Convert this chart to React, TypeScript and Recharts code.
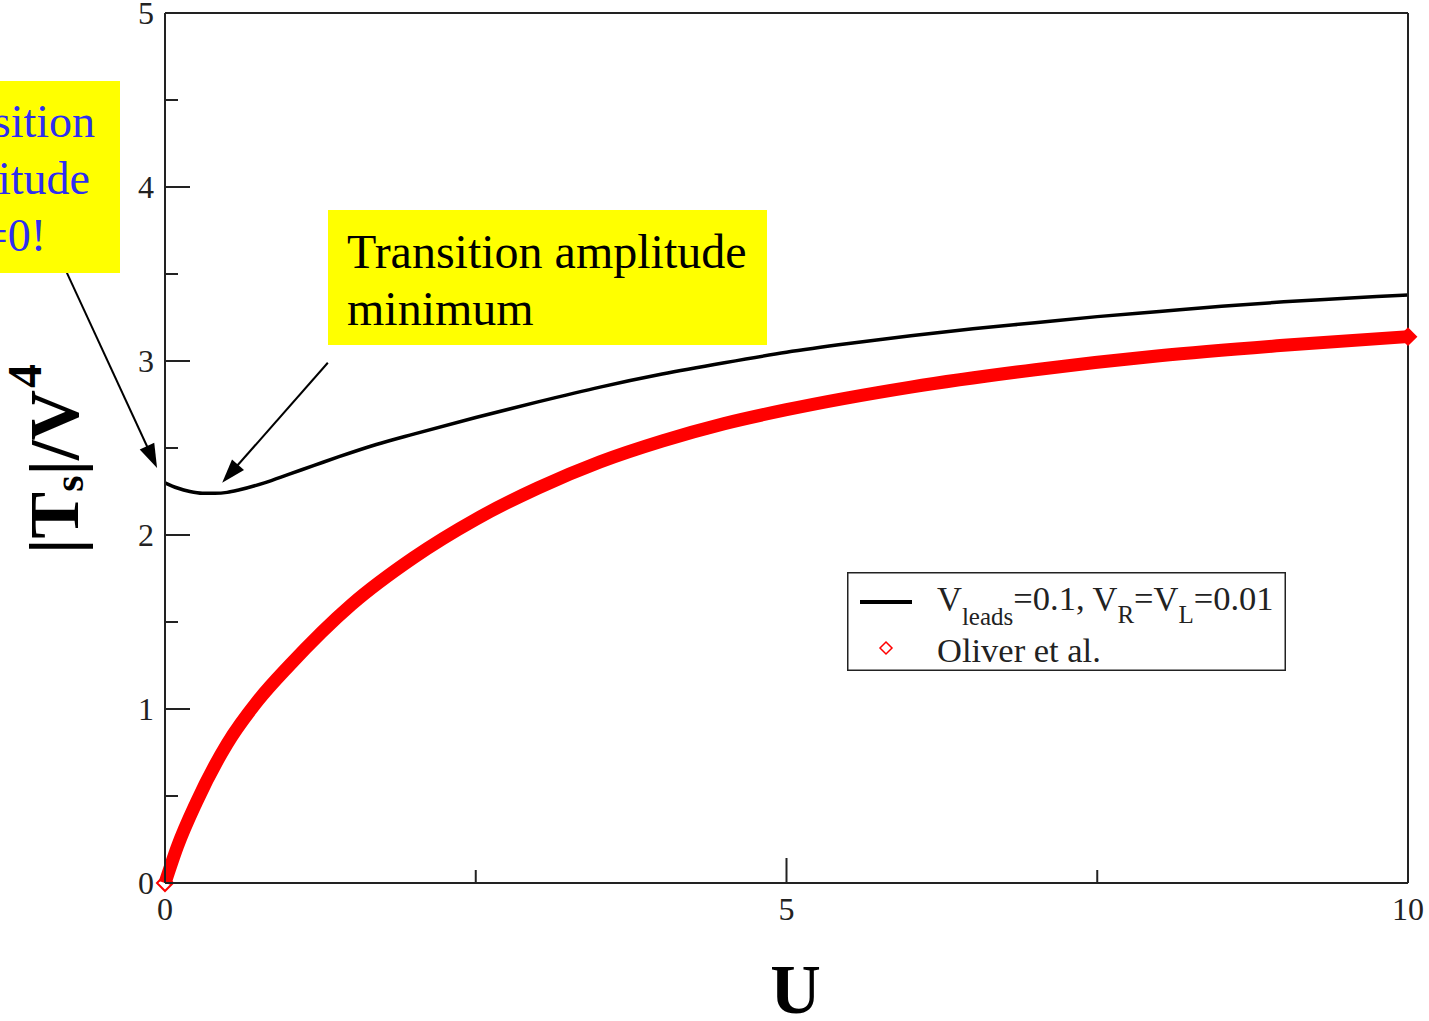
import React from "react";
import { LineChart, Line, XAxis, YAxis, ReferenceLine, Legend } from "recharts";

// black curve: V_leads=0.1, V_R=V_L=0.01
const leadsU = [0, 0.1, 0.2, 0.3, 0.4, 0.5, 0.6, 0.8, 1.0, 1.2, 1.4, 1.7, 2.0, 2.5, 3.0, 3.5, 4.0, 4.5, 5.0, 5.5, 6.0, 6.5, 7.0, 7.5, 8.0, 8.5, 9.0, 9.5, 10];
const leadsT = [2.3, 2.27, 2.25, 2.24, 2.24, 2.245, 2.26, 2.3, 2.35, 2.4, 2.45, 2.52, 2.58, 2.675, 2.765, 2.85, 2.925, 2.99, 3.05, 3.1, 3.145, 3.185, 3.22, 3.255, 3.285, 3.315, 3.34, 3.36, 3.38];

// red curve: Oliver et al.
const oliverU = [0, 0.1, 0.25, 0.5, 0.75, 1.0, 1.5, 2.0, 2.5, 3.0, 3.5, 4.0, 4.5, 5, 6, 7, 8, 9, 10];
const oliverT = [0, 0.21, 0.46, 0.8, 1.05, 1.25, 1.6, 1.87, 2.09, 2.27, 2.42, 2.54, 2.64, 2.72, 2.85, 2.95, 3.03, 3.09, 3.14];

const xTicks = [0, 2.5, 5, 7.5, 10];
const yTicks = [0, 0.5, 1, 1.5, 2, 2.5, 3, 3.5, 4, 4.5, 5];

// annotation arrows, in data units (tail -> head)
const arrowZero = [{ x: -0.83, y: 3.57 }, { x: -0.064, y: 2.385 }];
const arrowMin = [{ x: 1.31, y: 2.99 }, { x: 0.46, y: 2.3 }];

const leadsData = leadsU.map((u, i) => ({ u, t: leadsT[i] }));
const oliverData = oliverU.map((u, i) => ({ u, t: oliverT[i] }));

const SERIF = '"Liberation Serif", "Times New Roman", serif';
const FRAME = "#222";
const MAJOR = 25;
const MINOR = 13;

function BottomTick(props: any) {
  const { x, y, payload } = props;
  const v = payload.value;
  const major = v % 5 === 0;
  return (
    <g>
      <line x1={x} y1={y} x2={x} y2={y - (major ? MAJOR : MINOR)} stroke={FRAME} strokeWidth={2} />
      {major && (
        <text x={x} y={y + 37} textAnchor="middle" fontSize={32} fontFamily={SERIF} fill="#222">
          {v}
        </text>
      )}
    </g>
  );
}

function TopTick(props: any) {
  const { x, y, payload } = props;
  const major = payload.value % 5 === 0;
  return <line x1={x} y1={y} x2={x} y2={y + (major ? MAJOR : MINOR)} stroke={FRAME} strokeWidth={2} />;
}

function LeftTick(props: any) {
  const { x, y, payload } = props;
  const v = payload.value;
  const major = Number.isInteger(v);
  return (
    <g>
      <line x1={x} y1={y} x2={x + (major ? MAJOR : MINOR)} y2={y} stroke={FRAME} strokeWidth={2} />
      {major && (
        <text x={x - 11} y={y + 11} textAnchor="end" fontSize={32} fontFamily={SERIF} fill="#222">
          {v}
        </text>
      )}
    </g>
  );
}

function RightTick(props: any) {
  const { x, y, payload } = props;
  const major = Number.isInteger(payload.value);
  return <line x1={x} y1={y} x2={x - (major ? MAJOR : MINOR)} y2={y} stroke={FRAME} strokeWidth={2} />;
}

function Arrow(props: any) {
  const { x1, y1, x2, y2 } = props;
  const dx = x2 - x1;
  const dy = y2 - y1;
  const len = Math.sqrt(dx * dx + dy * dy);
  const ux = dx / len;
  const uy = dy / len;
  const head = 24;
  const half = 8;
  const bx = x2 - ux * head;
  const by = y2 - uy * head;
  return (
    <g>
      <line x1={x1} y1={y1} x2={bx + ux * 2} y2={by + uy * 2} stroke="#000" strokeWidth={2} />
      <polygon
        points={`${x2},${y2} ${bx - uy * half},${by + ux * half} ${bx + uy * half},${by - ux * half}`}
        fill="#000"
      />
    </g>
  );
}

function EndDiamond(props: any) {
  const { cx, cy, index } = props;
  if (index !== 0 && index !== oliverData.length - 1) return <g key={index} />;
  const r = 8;
  return (
    <polygon
      key={index}
      points={`${cx},${cy - r} ${cx + r},${cy} ${cx},${cy + r} ${cx - r},${cy}`}
      fill={index === 0 ? "none" : "#ff0000"}
      stroke="#ff0000"
      strokeWidth={2}
    />
  );
}

function YTitle(props: any) {
  const vb = props.viewBox;
  const cx = vb.x + 78;
  const cy = vb.y + vb.height / 2 + 11;
  return (
    <text
      x={cx}
      y={cy}
      transform={`rotate(-90, ${cx}, ${cy})`}
      textAnchor="middle"
      fontFamily={SERIF}
      fontWeight="bold"
      fontSize={70}
      fill="#000"
    >
      |T
      <tspan dy={5} fontSize={42}>s</tspan>
      <tspan dy={-5} fontSize={70}>|/V</tspan>
      <tspan dy={-37} dx={2} fontSize={48}>4</tspan>
    </text>
  );
}

function XTitle(props: any) {
  const vb = props.viewBox;
  return (
    <text
      x={vb.x + vb.width / 2 + 9}
      y={vb.y + 130}
      textAnchor="middle"
      fontFamily={SERIF}
      fontWeight="bold"
      fontSize={70}
      fill="#000"
    >
      U
    </text>
  );
}

function LegendBox() {
  return (
    <svg width={439} height={99} style={{ display: "block" }}>
      <rect x={0.75} y={0.75} width={437.5} height={97.5} fill="#fff" stroke={FRAME} strokeWidth={1.5} />
      <line x1={13} y1={30} x2={65} y2={30} stroke="#000" strokeWidth={4} />
      <text x={90} y={38} fontFamily={SERIF} fontSize={34.5} fill="#222">
        V
        <tspan dy={15} fontSize={25}>leads</tspan>
        <tspan dy={-15} fontSize={34.5}>=0.1, V</tspan>
        <tspan dy={13} fontSize={25}>R</tspan>
        <tspan dy={-13} fontSize={34.5}>=V</tspan>
        <tspan dy={13} fontSize={25}>L</tspan>
        <tspan dy={-13} fontSize={34.5}>=0.01</tspan>
      </text>
      <polygon points="39,70 45,76 39,82 33,76" fill="none" stroke="#ff0000" strokeWidth={1.5} />
      <text x={90} y={90} fontFamily={SERIF} fontSize={34.5} fill="#222">
        Oliver et al.
      </text>
    </svg>
  );
}

export default function App() {
  return (
    <div style={{ position: "absolute", left: 0, top: 0, width: 1429, height: 1021, background: "#fff", overflow: "hidden" }}>
      <LineChart width={1429} height={1021} margin={{ top: 0, right: 0, bottom: 0, left: 0 }}>
        <XAxis
          dataKey="u"
          type="number"
          domain={[0, 10]}
          ticks={xTicks}
          interval={0}
          height={138}
          tickSize={0}
          tickMargin={0}
          tickLine={false}
          tick={<BottomTick />}
          axisLine={{ stroke: FRAME, strokeWidth: 2 }}
          label={<XTitle />}
        />
        <XAxis
          xAxisId="top"
          orientation="top"
          type="number"
          domain={[0, 10]}
          ticks={xTicks}
          interval={0}
          height={13}
          tickSize={0}
          tickMargin={0}
          tickLine={false}
          tick={<TopTick />}
          axisLine={{ stroke: FRAME, strokeWidth: 2 }}
        />
        <YAxis
          type="number"
          domain={[0, 5]}
          ticks={yTicks}
          interval={0}
          width={165}
          tickSize={0}
          tickMargin={0}
          tickLine={false}
          tick={<LeftTick />}
          axisLine={{ stroke: FRAME, strokeWidth: 2 }}
          label={<YTitle />}
        />
        <YAxis
          yAxisId="right"
          orientation="right"
          type="number"
          domain={[0, 5]}
          ticks={yTicks}
          interval={0}
          width={21}
          tickSize={0}
          tickMargin={0}
          tickLine={false}
          tick={<RightTick />}
          axisLine={{ stroke: FRAME, strokeWidth: 2 }}
        />
        <Line
          data={oliverData}
          dataKey="t"
          name="Oliver et al."
          type="monotone"
          stroke="#ff0000"
          strokeWidth={13}
          dot={EndDiamond}
          activeDot={false}
          isAnimationActive={false}
        />
        <Line
          data={leadsData}
          dataKey="t"
          name="V_leads=0.1, V_R=V_L=0.01"
          type="monotone"
          stroke="#000"
          strokeWidth={3.5}
          dot={false}
          activeDot={false}
          isAnimationActive={false}
        />
        <ReferenceLine segment={arrowZero} ifOverflow="visible" shape={Arrow} />
        <ReferenceLine segment={arrowMin} ifOverflow="visible" shape={Arrow} />
        <Legend
          layout="horizontal"
          verticalAlign="middle"
          align="center"
          content={() => <LegendBox />}
          wrapperStyle={{ left: 847, top: 572, width: 439, height: 99, right: "auto", bottom: "auto" }}
        />
      </LineChart>
      <svg
        width={1429}
        height={1021}
        style={{ position: "absolute", left: 0, top: 0, pointerEvents: "none" }}
      >
        <rect x={0} y={81} width={120} height={192} fill="#ffff00" />
        <g fontFamily={SERIF} fontSize={46} fill="#2e2ef0" textAnchor="end">
          <text x={95} y={137}>Transition</text>
          <text x={90} y={194}>amplitude</text>
          <text x={46} y={251}>at U=0!</text>
        </g>
        <rect x={328} y={210} width={439} height={135} fill="#ffff00" />
        <g fontFamily={SERIF} fontSize={48} fill="#000">
          <text x={347} y={268}>Transition amplitude</text>
          <text x={347} y={325}>minimum</text>
        </g>
      </svg>
    </div>
  );
}
